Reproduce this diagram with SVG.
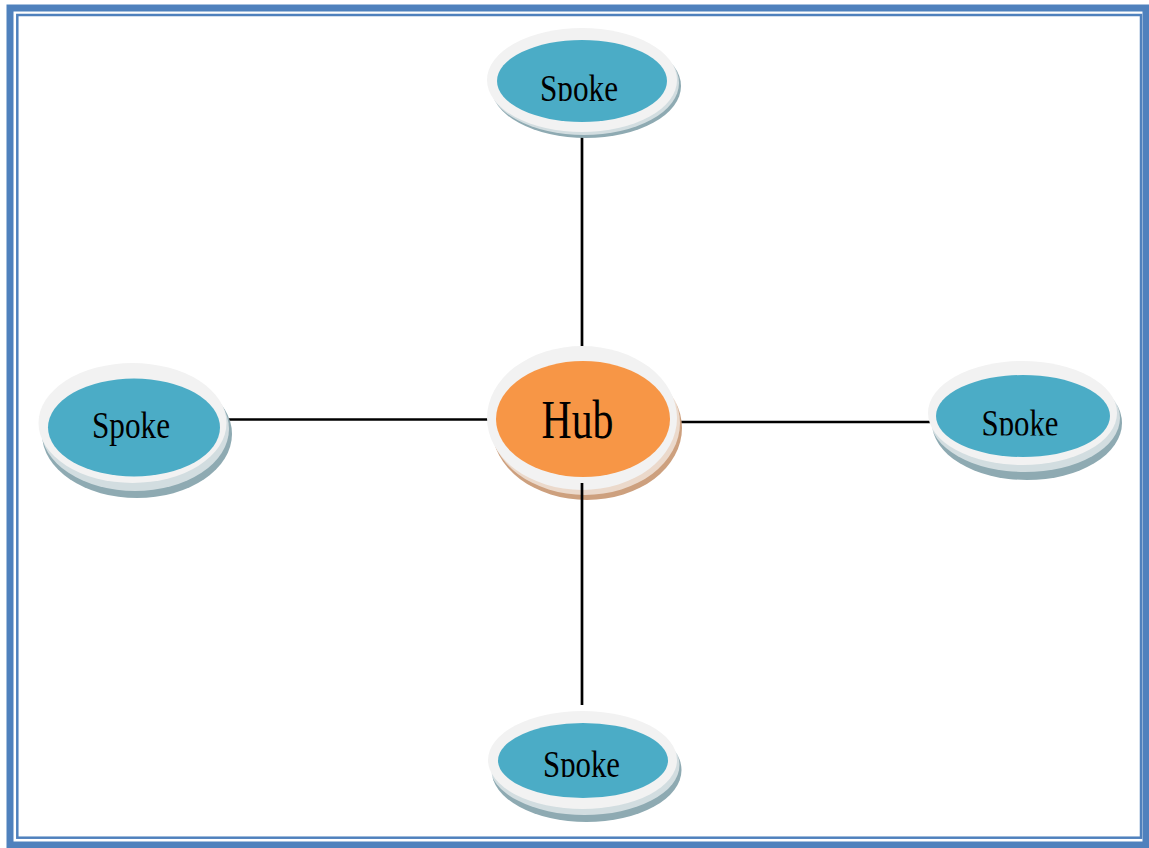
<svg xmlns="http://www.w3.org/2000/svg" width="1149" height="848" viewBox="0 0 1149 848">
<style>
.ring{fill:#f2f2f2}
.sh{fill:#8eaab2}
.hsh{fill:#cda07e}
.spoke{fill:#4bacc6}
.hub{fill:#f79646}
.lbl{font-family:"Liberation Serif","Times New Roman",serif;fill:#000;text-anchor:middle}
.conn line{stroke:#000;stroke-width:2.7}
</style>
<defs>
<clipPath id="ct"><rect x="0" y="0" width="1149" height="101"/></clipPath>
<clipPath id="cr"><rect x="0" y="300" width="1149" height="135.5"/></clipPath>
<clipPath id="cb"><rect x="0" y="700" width="1149" height="77"/></clipPath>
</defs>
<rect width="1149" height="848" fill="#fff"/>
<rect x="10" y="8" width="1136" height="837" fill="none" stroke="#4f81bd" stroke-width="7"/>
<rect x="17.3" y="15" width="1123.7" height="822.7" fill="none" stroke="#4f81bd" stroke-width="2.5"/>

<g id="connectors" class="conn">
<line x1="582" y1="137" x2="582" y2="350"/>
<line x1="229" y1="419.5" x2="488" y2="419.5"/>
<line x1="675" y1="422" x2="934" y2="422"/>
</g>

<g id="hub">
<ellipse class="hsh" cx="587" cy="428" rx="95" ry="72"/>
<ellipse cx="585" cy="423" rx="95" ry="72" fill="#fff" opacity="0.6"/>
<ellipse class="ring" cx="582" cy="418" rx="95" ry="72"/>
<ellipse class="hub" cx="583" cy="419" rx="87" ry="58"/>
<text class="lbl" x="577.5" y="438.3" font-size="55" textLength="72" lengthAdjust="spacingAndGlyphs">Hub</text>
</g>

<g id="connectors-bottom" class="conn">
<line x1="582" y1="483" x2="582" y2="705"/>
</g>

<g id="spoke-top">
<ellipse class="sh" cx="586" cy="86" rx="95" ry="52"/>
<ellipse cx="584" cy="83" rx="95" ry="52" fill="#fff" opacity="0.6"/>
<ellipse class="ring" cx="582" cy="80" rx="95" ry="52"/>
<ellipse class="spoke" cx="582" cy="81" rx="85" ry="41"/>
<text class="lbl" x="579" y="101" font-size="38" textLength="78" lengthAdjust="spacingAndGlyphs" clip-path="url(#ct)">Spoke</text>
</g>

<g id="spoke-left">
<ellipse class="sh" cx="137" cy="434" rx="95" ry="64"/>
<ellipse cx="135" cy="429" rx="94" ry="62" fill="#fff" opacity="0.6"/>
<ellipse class="ring" cx="132.5" cy="423" rx="94" ry="60"/>
<ellipse class="spoke" cx="134" cy="427.5" rx="86" ry="49"/>
<text class="lbl" x="131" y="438.3" font-size="38" textLength="78" lengthAdjust="spacingAndGlyphs">Spoke</text>
</g>

<g id="spoke-right">
<ellipse class="sh" cx="1027" cy="423" rx="95" ry="57"/>
<ellipse cx="1025" cy="418" rx="95" ry="54" fill="#fff" opacity="0.6"/>
<ellipse class="ring" cx="1022.5" cy="413" rx="94.5" ry="52"/>
<ellipse class="spoke" cx="1023" cy="416" rx="87" ry="41"/>
<text class="lbl" x="1020" y="435.5" font-size="38" textLength="77" lengthAdjust="spacingAndGlyphs" clip-path="url(#cr)">Spoke</text>
</g>

<g id="spoke-bottom">
<ellipse class="sh" cx="586.5" cy="770" rx="95" ry="52"/>
<ellipse cx="584.5" cy="765" rx="95" ry="50" fill="#fff" opacity="0.6"/>
<ellipse class="ring" cx="582.5" cy="760" rx="94.5" ry="49"/>
<ellipse class="spoke" cx="583" cy="760.5" rx="85" ry="37.5"/>
<text class="lbl" x="581.5" y="777" font-size="38" textLength="77" lengthAdjust="spacingAndGlyphs" clip-path="url(#cb)">Spoke</text>
</g>
</svg>
